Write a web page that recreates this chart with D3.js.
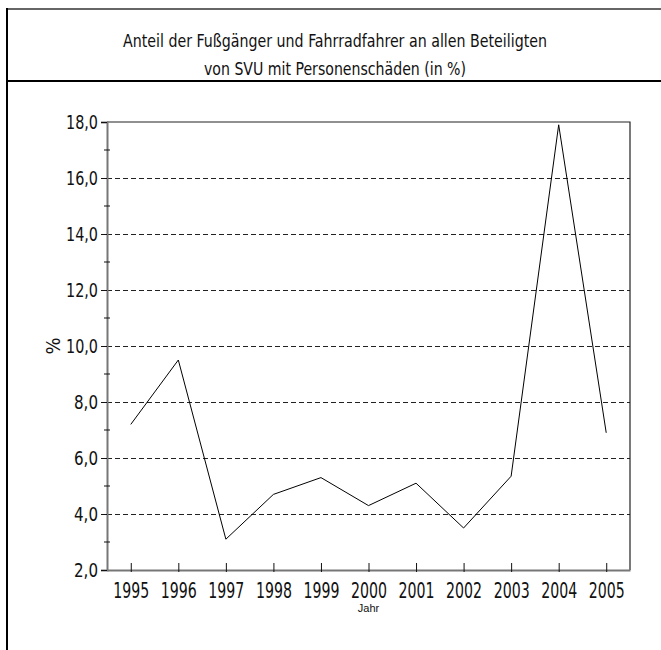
<!DOCTYPE html>
<html>
<head>
<meta charset="utf-8">
<script src="https://cdn.jsdelivr.net/npm/d3@7"></script>
<style>
  body { margin: 0; background: #fff; }
  text { font-family: "Liberation Sans Narrow", "DejaVu Sans Condensed", "Liberation Sans", sans-serif; fill: #111; }
</style>
</head>
<body>
<div id="chart"></div>
<script>
// data
var years = ["1995", "1996", "1997", "1998", "1999", "2000", "2001", "2002", "2003", "2004", "2005"];
var shares = [7.2, 9.5, 3.1, 4.7, 5.3, 4.3, 5.1, 3.5, 5.35, 17.9, 6.9];
var yTicks = [2, 4, 6, 8, 10, 12, 14, 16, 18];
var yMinorTicks = [3, 5, 7, 9, 11, 13, 15, 17];
var titleLines = ["Anteil der Fußgänger und Fahrradfahrer an allen Beteiligten",
                  "von SVU mit Personenschäden (in %)"];

var width = 661, height = 650;
var plot = { left: 107, right: 630, top: 122, bottom: 570 };

var svg = d3.select("#chart")
    .append("svg")
    .attr("width", width)
    .attr("height", height);

// frame around the title
svg.append("line")
    .attr("x1", 6).attr("x2", width)
    .attr("y1", 9).attr("y2", 9)
    .attr("stroke", "#333").attr("stroke-width", 1.5);
svg.append("line")
    .attr("x1", 6).attr("x2", width)
    .attr("y1", 81).attr("y2", 81)
    .attr("stroke", "#000").attr("stroke-width", 2);
svg.append("line")
    .attr("x1", 7).attr("x2", 7)
    .attr("y1", 8).attr("y2", height)
    .attr("stroke", "#000").attr("stroke-width", 2);

svg.selectAll(".title")
    .data(titleLines)
    .enter()
    .append("text")
    .attr("class", "title")
    .attr("x", 335)
    .attr("y", (d, i) => 46.5 + i * 28.3)
    .attr("text-anchor", "middle")
    .attr("font-size", "17px")
    .attr("textLength", (d, i) => i == 0 ? 424 : 262)
    .attr("lengthAdjust", "spacingAndGlyphs")
    .text(d => d);

var x = d3.scalePoint()
    .domain(years)
    .range([plot.left, plot.right])
    .padding(0.5);

var y = d3.scaleLinear()
    .domain([2, 18])
    .range([plot.bottom, plot.top]);

var fmt = v => d3.format(".1f")(v).replace(".", ",");

// dashed grid
svg.append("g")
    .selectAll("line")
    .data(yTicks.filter(d => d > 2 && d < 18))
    .enter()
    .append("line")
    .attr("x1", plot.left).attr("x2", plot.right)
    .attr("y1", d => y(d)).attr("y2", d => y(d))
    .attr("stroke", "#222")
    .attr("stroke-dasharray", "5,3")
    .attr("shape-rendering", "crispEdges");

// top and right border
svg.append("path")
    .attr("d", `M${plot.left},${plot.top}H${plot.right}V${plot.bottom}`)
    .attr("fill", "none")
    .attr("stroke", "#222")
    .attr("stroke-width", 1.2);

// y axis
var yAxis = svg.append("g")
    .attr("transform", `translate(${plot.left},0)`)
    .call(d3.axisLeft(y).tickValues(yTicks).tickSize(6).tickPadding(3).tickFormat(fmt));
yAxis.select(".domain").attr("stroke", "#777").attr("stroke-width", 2);
yAxis.selectAll(".tick line").attr("stroke", "#111");
yAxis.selectAll(".tick text")
    .attr("font-size", "20px")
    .attr("fill", "#111")
    .attr("textLength", d => fmt(d).length * 8)
    .attr("lengthAdjust", "spacingAndGlyphs");

svg.append("g")
    .selectAll("line")
    .data(yMinorTicks)
    .enter()
    .append("line")
    .attr("x1", plot.left - 3).attr("x2", plot.left + 3)
    .attr("y1", d => y(d)).attr("y2", d => y(d))
    .attr("stroke", "#111");

// x axis
var xAxis = svg.append("g")
    .attr("transform", `translate(0,${plot.bottom})`)
    .call(d3.axisBottom(x).tickSize(0).tickPadding(10));
xAxis.select(".domain").attr("stroke", "#777").attr("stroke-width", 2);
xAxis.selectAll(".tick text")
    .attr("font-size", "21px")
    .attr("fill", "#111")
    .attr("dy", "0.85em")
    .attr("textLength", 36)
    .attr("lengthAdjust", "spacingAndGlyphs");
xAxis.selectAll(".tick line")
    .attr("y1", -7).attr("y2", 2)
    .attr("stroke", "#111");

// line
var line = d3.line()
    .x((d, i) => x(years[i]))
    .y(d => y(d));

svg.append("path")
    .datum(shares)
    .attr("d", line)
    .attr("fill", "none")
    .attr("stroke", "#000")
    .attr("stroke-width", 1);

// axis titles
svg.append("text")
    .attr("transform", "rotate(-90)")
    .attr("x", -y(10))
    .attr("y", 60)
    .attr("text-anchor", "middle")
    .attr("font-size", "20px")
    .text("%");

svg.append("text")
    .attr("x", (plot.left + plot.right) / 2)
    .attr("y", 612)
    .attr("text-anchor", "middle")
    .attr("font-size", "11px")
    .style("font-family", "'Liberation Sans', Arial, sans-serif")
    .text("Jahr");
</script>
</body>
</html>
